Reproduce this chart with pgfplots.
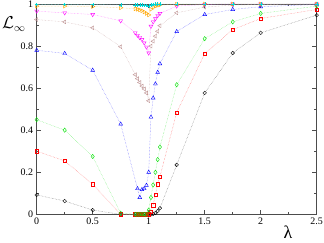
\documentclass[border=0pt]{standalone}
\usepackage{fontspec}
\setmainfont{Liberation Serif}
\usepackage{pgfplots}
\pgfplotsset{compat=1.18}
\definecolor{gbrown}{RGB}{188,143,143}
\definecolor{gorange}{RGB}{255,165,0}
\definecolor{gcyan}{RGB}{0,215,215}
\definecolor{ggreen}{RGB}{0,225,0}
\definecolor{gmag}{RGB}{255,0,255}
\begin{document}
\begin{tikzpicture}
\useasboundingbox (-36.7bp,-28.7bp) rectangle (287.3bp,214.3bp);
\begin{axis}[
  scale only axis, width=280bp, height=210.3bp,
  xmin=0, xmax=2.5, ymin=0, ymax=1,
  xtick={0,0.5,1,1.5,2,2.5}, xticklabels={0,0.5,1,1.5,2,2.5},
  ytick={0,0.2,0.4,0.6,0.8,1}, yticklabels={0,0.2,0.4,0.6,0.8,1},
  minor x tick num=1, minor y tick num=1,
  tick align=inside,
  major tick length=4.5bp, minor tick length=2.5bp,
  axis line style={line width=0.9pt, black!70},
  every tick/.style={line width=0.8pt, black!70},
  /pgf/number format/assume math mode=true,
  ticklabel style={font=\fontsize{10}{12}\selectfont},
  clip=false,
  xlabel={\fontsize{18}{18}\selectfont λ},
  xlabel style={at={(axis description cs:0.8975,0)}, anchor=center, inner sep=0pt, yshift=-18bp},
  ylabel={\fontsize{16}{16}\selectfont$\mathcal{L}_\infty$},
  ylabel style={rotate=-90, inner sep=0pt, at={(axis description cs:-0.124,0.905)}, anchor=west},
  every axis plot/.append style={densely dotted, line width=0.45pt},
]
% black circles
\addplot[color=black!55, mark=o, mark size=1.8bp, mark options={solid, black, line width=0.4pt}] coordinates {
(0,0.092)(0.25,0.063)(0.5,0.02)(0.75,0)(0.88,0)(0.9,0)(0.92,0)(0.94,0)(0.96,0)(0.98,0)(1.0,0)(1.02,0)(1.04,0.002)(1.06,0.006)(1.08,0.016)(1.1,0.029)(1.25,0.235)(1.5,0.577)(1.75,0.767)(2,0.863)(2.5,0.947)};
% red squares
\addplot[color=red!55, mark=square, mark size=1.7bp, mark options={solid, red, line width=0.4pt}] coordinates {
(0,0.30)(0.25,0.254)(0.5,0.143)(0.75,0)(0.88,0)(0.9,0)(0.92,0)(0.94,0)(0.96,0)(0.98,0)(1.0,0)(1.02,0.012)(1.04,0.044)(1.06,0.092)(1.08,0.143)(1.1,0.179)(1.25,0.484)(1.5,0.764)(1.75,0.878)(2,0.931)(2.5,0.974)};
% green diamonds
\addplot[color=ggreen!55, mark=diamond, mark size=2.2bp, mark options={solid, ggreen, line width=0.4pt}] coordinates {
(0,0.45)(0.25,0.40)(0.5,0.275)(0.75,0.005)(0.88,0)(0.9,0)(0.92,0)(0.94,0)(0.96,0)(0.98,0)(1.0,0.02)(1.02,0.08)(1.04,0.14)(1.06,0.2)(1.08,0.26)(1.1,0.32)(1.25,0.616)(1.5,0.835)(1.75,0.915)(2,0.955)(2.5,0.99)};
% blue triangles up
\addplot[color=blue!55, mark=triangle, mark size=2.2bp, mark options={solid, blue, line width=0.4pt}] coordinates {
(0,0.78)(0.25,0.765)(0.5,0.685)(0.75,0.429)(0.9,0.122)(0.92,0.08)(0.94,0.118)(0.96,0.122)(0.98,0.138)(1.0,0.2)(1.02,0.462)(1.04,0.553)(1.06,0.62)(1.08,0.675)(1.1,0.716)(1.25,0.869)(1.5,0.95)(1.75,0.974)(2,0.987)(2.5,0.998)};
% brown triangles left
\addplot[color=gbrown!70, mark=triangle, mark size=2.2bp, mark options={solid, gbrown, line width=0.4pt, rotate=90}] coordinates {
(0,0.926)(0.25,0.915)(0.5,0.887)(0.75,0.797)(0.88,0.664)(0.9,0.645)(0.92,0.627)(0.94,0.61)(0.96,0.596)(0.98,0.577)(1.0,0.54)(1.02,0.8)(1.04,0.823)(1.06,0.847)(1.08,0.87)(1.1,0.897)(1.25,0.958)(1.5,0.985)(1.75,0.995)(2,0.998)(2.5,1)};
% magenta triangles down
\addplot[color=gmag!55, mark=triangle, mark size=2.2bp, mark options={solid, gmag, line width=0.4pt, rotate=180}] coordinates {
(0,0.966)(0.25,0.958)(0.5,0.95)(0.75,0.92)(0.88,0.863)(0.9,0.851)(0.92,0.84)(0.94,0.831)(0.96,0.815)(0.98,0.795)(1.0,0.767)(1.02,0.894)(1.04,0.915)(1.06,0.93)(1.08,0.945)(1.1,0.955)(1.25,0.99)(1.5,0.998)(1.75,1)(2,1)(2.5,1)};
% orange triangles right
\addplot[color=gorange!60, mark=triangle, mark size=2.2bp, mark options={solid, gorange, line width=0.4pt, rotate=-90}] coordinates {
(0,0.99)(0.25,0.99)(0.5,0.988)(0.75,0.982)(0.88,0.977)(0.9,0.975)(0.92,0.972)(0.94,0.968)(0.96,0.962)(0.98,0.955)(1.0,0.948)(1.02,0.975)(1.04,0.985)(1.06,0.99)(1.08,0.993)(1.1,0.995)(1.25,0.999)(1.5,1)(1.75,1)(2,1)(2.5,1)};
% cyan plus
\addplot[color=gcyan!60, mark=+, mark size=1.8bp, mark options={solid, gcyan, line width=0.4pt}] coordinates {
(0,0.997)(0.25,0.997)(0.5,0.997)(0.75,0.996)(0.88,0.995)(0.9,0.995)(0.92,0.994)(0.94,0.994)(0.96,0.993)(0.98,0.992)(1.0,0.99)(1.02,0.996)(1.04,0.998)(1.06,0.999)(1.08,1)(1.1,1)(1.25,1)(1.5,1)(1.75,1)(2,1)(2.5,1)};
\end{axis}
\end{tikzpicture}
\end{document}
